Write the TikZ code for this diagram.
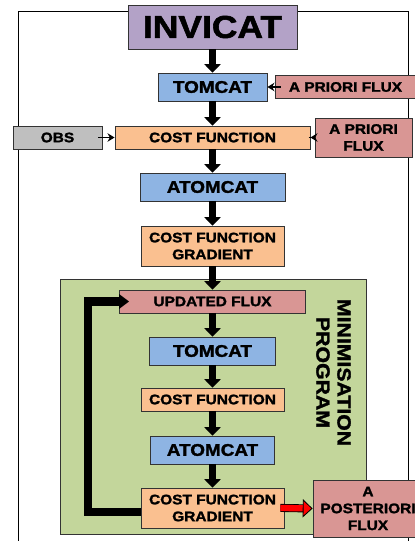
\documentclass[tikz,border=0pt]{standalone}
\usepackage{fontspec}
\setmainfont{Liberation Sans}[FakeStretch=1.12, BoldFeatures={FakeBold=1.8}]
\usetikzlibrary{arrows.meta,positioning,calc}

\definecolor{invicatPurple}{HTML}{B3A2C7}
\definecolor{modelBlue}{HTML}{8EB4E3}
\definecolor{fluxPink}{HTML}{D99694}
\definecolor{costOrange}{HTML}{FAC090}
\definecolor{obsGray}{HTML}{BFBFBF}
\definecolor{minGreen}{HTML}{C3D69B}

\tikzset{
  box/.style={draw=black!80, inner sep=1pt, align=center, font=\bfseries\fontsize{9.8}{12}\selectfont},
  model/.style={box, fill=modelBlue, minimum height=7mm, font=\bfseries\fontsize{12}{14}\selectfont},
  cost/.style={box, fill=costOrange},
  flux/.style={box, fill=fluxPink},
  flow/.style={line width=4.3pt, -{Triangle[length=6pt,width=11.5pt]}},
  feed/.style={line width=1.4pt, -{Stealth[length=5pt,width=6pt]}},
}

\begin{document}
\begin{tikzpicture}[x=0.25mm, y=-0.25mm, semithick]
  \useasboundingbox (0,0) rectangle (415,541);
  \clip (0,0) rectangle (415,541);

  % outer frame
  \draw[thin] (18,11) rectangle (408,560);

  \node[draw=black!80, fill=invicatPurple, minimum width=42.25mm, minimum height=11mm,
        font=\bfseries\fontsize{22.5}{24}\selectfont] (invicat) at (212.5,27) {INVICAT};

  % forward run
  \node[model, minimum width=27.25mm] (tomcat) at (212.5,87) {TOMCAT};
  \node[flux, minimum width=35.25mm, minimum height=5.75mm] (prior) at (345.5,87) {A PRIORI FLUX};
  \draw[feed, shorten <=-1.5mm] (prior) -- (tomcat);

  \node[cost, minimum width=48.75mm, minimum height=5.75mm] (cost) at (212.5,137.5) {COST FUNCTION};
  \node[box, fill=obsGray, minimum width=22.25mm, minimum height=5.75mm] (obs) at (57.5,137.5) {OBS};
  \node[flux, minimum width=24.25mm, minimum height=9.75mm] (prior2) at (363.5,137.5) {A PRIORI\\FLUX};
  \draw[feed, shorten <=-1mm] (obs) -- (cost);
  \draw[feed, shorten <=-1.5mm] (prior2) -- (cost);

  \node[model, minimum width=36.25mm] (atomcat) at (212.5,187) {ATOMCAT};
  \node[cost, minimum width=35.75mm, minimum height=10mm] (grad) at (212.5,246) {COST FUNCTION\\GRADIENT};

  \draw[flow] (invicat) -- (tomcat);
  \draw[flow] (tomcat) -- (cost);
  \draw[flow] (cost) -- (atomcat);
  \draw[flow] (atomcat) -- (grad);

  % minimisation loop
  \node[draw=black!80, fill=minGreen, minimum width=76.5mm, minimum height=63.75mm] (minbox) at (213,406.5) {};
  \node[rotate=-90, align=center, font=\bfseries\fontsize{13.5}{15}\selectfont] (minlabel) at (333.5,372.5) {MINIMISATION\\PROGRAM};

  \node[flux, minimum width=46.5mm, minimum height=5.75mm] (updated) at (212.5,301.5) {UPDATED FLUX};
  \node[model, minimum width=31.5mm] (tomcat2) at (212.5,351) {TOMCAT};
  \node[cost, minimum width=35.75mm, minimum height=5.75mm] (cost2) at (212.5,399.5) {COST FUNCTION};
  \node[model, minimum width=31mm] (atomcat2) at (212.5,450) {ATOMCAT};
  \node[cost, minimum width=35.75mm, minimum height=10mm] (grad2) at (212.5,508) {COST FUNCTION\\GRADIENT};
  \node[flux, minimum width=27.5mm, minimum height=14.25mm] (post) at (368,508.5) {A\\POSTERIORI\\FLUX};

  \draw[flow] (grad) -- (updated);
  \draw[flow] (updated) -- (tomcat2);
  \draw[flow] (tomcat2) -- (cost2);
  \draw[flow] (cost2) -- (atomcat2);
  \draw[flow] (atomcat2) -- (grad2);

  \draw[line width=5.8pt, shorten >=-2.5mm, -{Triangle[length=7pt,width=10pt]}]
    ([yshift=-1mm]grad2.west) -- ++(-53,0) |- (updated.west);

  \draw[double=red, double distance=4.5pt, line width=0.6pt, shorten <=-1mm,
        -{Triangle[length=7pt,width=13pt,fill=red]}] (grad2.east) -- (post.west);
\end{tikzpicture}
\end{document}
